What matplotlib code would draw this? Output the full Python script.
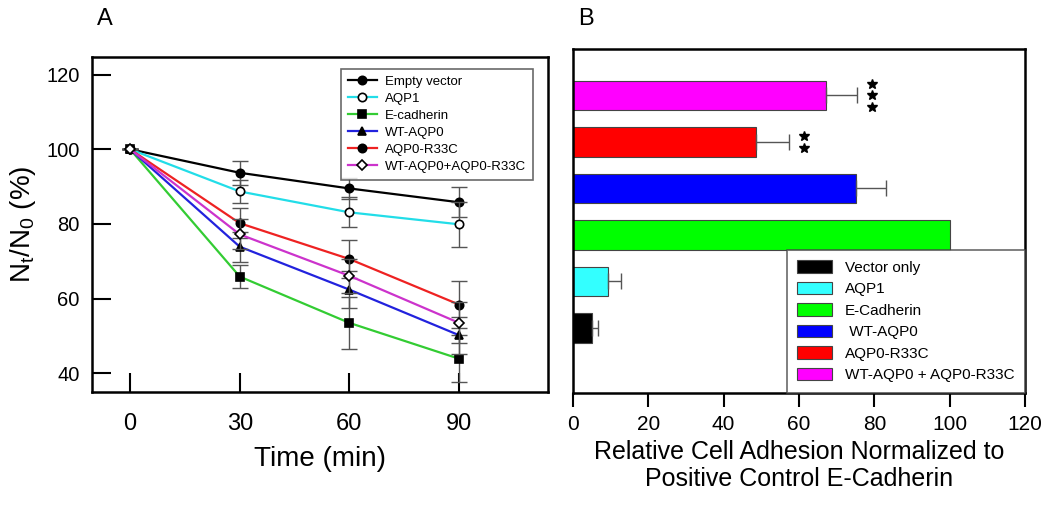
import matplotlib.pyplot as plt

plt.rcParams['font.family'] = ['Liberation Sans', 'DejaVu Sans']

# Panel A data
tempo = [0, 30, 60, 90]
series_a = ['Empty vector', 'AQP1', 'E-cadherin', 'WT-AQP0', 'AQP0-R33C', 'WT-AQP0+AQP0-R33C']
empty_vector = [100, 93.7, 89.5, 85.8]
aqp1 = [100, 88.7, 83.1, 79.9]
e_cadherin = [100, 65.9, 53.5, 43.9]
wt_aqp0 = [100, 73.9, 62.4, 50.2]
aqp0_r33c = [100, 80.2, 70.6, 58.4]
wt_mix = [100, 77.2, 66.1, 53.5]
err_empty = [0, 3.2, 2.7, 4.0]
err_aqp1 = [0, 3.0, 4.0, 6.0]
err_ecad = [0, 3.0, 7.0, 6.3]
err_wt = [0, 4.0, 5.0, 5.0]
err_r33c = [0, 4.0, 5.0, 6.2]
err_mix = [0, 4.0, 4.5, 5.5]

# Panel B data
grupos = ['Vector only', 'AQP1', 'E-Cadherin', ' WT-AQP0', 'AQP0-R33C', 'WT-AQP0 + AQP0-R33C']
adesao = [5.1, 9.2, 100, 75.0, 48.7, 67.3]
err_adesao = [1.6, 3.5, 0, 8.0, 8.6, 8.2]
estrelas = [0, 0, 0, 0, 2, 3]

cores_a = ['black', '#22dde8', '#33cc33', '#2222dd', '#ee2222', '#cc33cc']
marcadores = ['o', 'o', 's', '^', 'o', 'D']
faces = ['black', 'white', 'black', 'black', 'black', 'white']
cores_b = ['black', '#33ffff', '#00ff00', '#0000ff', '#ff0000', '#ff00ff']

fig = plt.figure(figsize=(10.5, 5.08), dpi=100)
ax1 = fig.add_axes([92/1050, 116/508, 456/1050, 335/508])
ax2 = fig.add_axes([573/1050, 115/508, 452/1050, 344/508])

valores = [empty_vector, aqp1, e_cadherin, wt_aqp0, aqp0_r33c, wt_mix]
erros = [err_empty, err_aqp1, err_ecad, err_wt, err_r33c, err_mix]
linhas = []
for i in range(len(series_a)):
    ax1.errorbar(tempo, valores[i], yerr=erros[i], fmt='none', ecolor='#555555',
                 elinewidth=1, capsize=6, capthick=1)
    l, = ax1.plot(tempo, valores[i], color=cores_a[i], lw=1.6,
                  marker=marcadores[i], mfc=faces[i], mec='black', mew=1.2,
                  ms=5 if marcadores[i] == 'D' else 6, label=series_a[i])
    linhas.append(l)

ax1.set_xlim(-10.4, 114.3)
ax1.set_ylim(35, 124.7)
ax1.set_xticks(tempo)
ax1.set_yticks([40, 60, 80, 100, 120])
ax1.tick_params(axis='y', direction='in', length=14, width=1.5, labelsize=14.5, pad=9)
ax1.tick_params(axis='x', direction='in', length=14, width=1.5, labelsize=17, pad=15)
for s in ax1.spines.values():
    s.set_linewidth(1.8)
ax1.set_xlabel('Time (min)', fontsize=20, labelpad=8)
ax1.set_ylabel('N$_\\mathregular{t}$/N$_\\mathregular{0}$ (%)', fontsize=20, labelpad=6)
leg1 = ax1.legend(handles=linhas, loc='upper right', bbox_to_anchor=(0.982, 0.985),
                  fontsize=9.5, frameon=True, fancybox=False, edgecolor='#444444',
                  handlelength=2.2, handletextpad=0.6, labelspacing=0.36, borderpad=0.55)
leg1.get_frame().set_linewidth(1.2)
fig.text(97/1050, 1 - 19/508, 'A', fontsize=17, va='center')

# Panel B
pos = list(range(len(grupos)))
ax2.barh(pos, adesao, height=0.63, color=cores_b, edgecolor='#444444', lw=0.8)
for i in pos:
    if err_adesao[i] > 0:
        ax2.errorbar(adesao[i], i, xerr=[[0], [err_adesao[i]]], ecolor='#555555',
                     elinewidth=1, capsize=6, capthick=1, fmt='none')
    n = estrelas[i]
    if n:
        ys = [i + 0.25 * (k - (n - 1) / 2) for k in range(n)]
        ax2.plot([adesao[i] + err_adesao[i] + 4] * n, ys, ls='none', marker='*',
                 ms=7, color='black')
ax2.set_xlim(0, 120)
ax2.set_ylim(-1.4, 6.0)
ax2.set_xticks([0, 20, 40, 60, 80, 100, 120])
ax2.set_yticks([])
ax2.tick_params(axis='x', direction='out', length=10, width=1.5, labelsize=15, pad=6)
for s in ax2.spines.values():
    s.set_linewidth(1.8)
ax2.set_xlabel('Relative Cell Adhesion Normalized to\nPositive Control E-Cadherin',
               fontsize=18, labelpad=4, linespacing=1.15)
handles = ax2.containers[0].patches
leg2 = ax2.legend(handles, grupos, loc='lower right', fontsize=11, frameon=True,
                  fancybox=False, edgecolor='#444444', handlelength=2.3,
                  handleheight=0.9, labelspacing=0.45, borderpad=0.7,
                  borderaxespad=0)
leg2.get_frame().set_linewidth(1.2)
fig.text(578/1050, 1 - 19/508, 'B', fontsize=17, va='center')

fig.savefig('out.png', dpi=100)
